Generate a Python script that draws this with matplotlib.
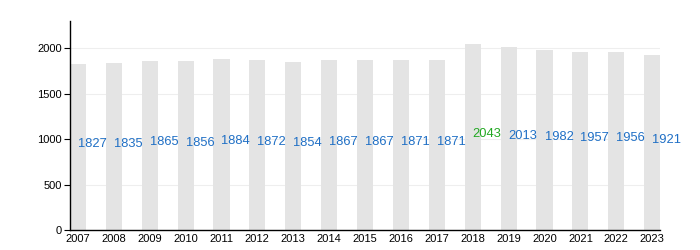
import matplotlib
matplotlib.use('Agg')
import matplotlib.pyplot as plt

years = ['2007', '2008', '2009', '2010', '2011', '2012', '2013', '2014', '2015',
         '2016', '2017', '2018', '2019', '2020', '2021', '2022', '2023']
population = [1827, 1835, 1865, 1856, 1884, 1872, 1854, 1867, 1867,
              1871, 1871, 2043, 2013, 1982, 1957, 1956, 1921]
yticks = [0, 500, 1000, 1500, 2000]

plt.rcParams['font.family'] = ['Liberation Sans', 'DejaVu Sans']

fig = plt.figure(figsize=(7, 2.5), dpi=100)
ax = fig.add_axes([0.1, 0.08, 0.843, 0.836])

x = list(range(len(years)))
ax.bar(x, population, width=0.45, color='#e4e4e4', zorder=2)

# max year in green, the rest in blue
top = max(population)
for i, v in zip(x, population):
    c = '#22a822' if v == top else '#1f6fc5'
    ax.text(i, v / 2, str(v), ha='left', va='baseline', fontsize=9.3, color=c, zorder=3)

ax.set_xlim(-0.22, len(years) - 1 + 0.22)
ax.set_ylim(0, 2300)
ax.set_yticks(yticks)
ax.set_xticks(x)
ax.set_xticklabels(years)
ax.tick_params(axis='x', length=0, labelsize=8, pad=3)
ax.tick_params(axis='y', length=4, width=0.8, labelsize=8, pad=2)
ax.yaxis.grid(True, color='#eeeeee', linewidth=0.8, zorder=0)
ax.set_axisbelow(True)
for s in ['top', 'right']:
    ax.spines[s].set_visible(False)
ax.spines['left'].set_linewidth(1)
ax.spines['bottom'].set_linewidth(1)

fig.savefig('out.png', dpi=100)
